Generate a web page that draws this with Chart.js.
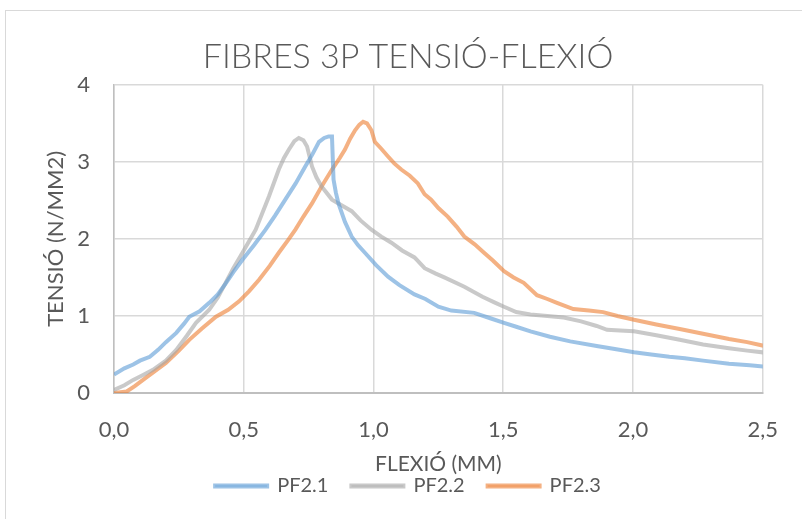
<!DOCTYPE html>
<html>
<head>
<meta charset="utf-8">
<script src="https://cdn.jsdelivr.net/npm/chart.js@4.4.1/dist/chart.umd.min.js"></script>
<style>
  html, body { margin: 0; padding: 0; background: #fff; overflow: hidden; }
  #wrap { position: relative; width: 802px; height: 519px; }
  #frame { position: absolute; left: 5px; top: 10px; width: 900px; height: 600px; border: 1.5px solid #d9d9d9; }
  canvas { position: absolute; left: 0; top: 0; }
</style>
</head>
<body>
<div id="wrap">
  <div id="frame"></div>
  <canvas id="chart" width="802" height="519"></canvas>
</div>
<script>
// values (flexió mm, tensió N/mm2)
const seriesNames = ["PF2.1", "PF2.2", "PF2.3"];

const pf21x = [0, 0.04, 0.074, 0.10, 0.138, 0.17, 0.20, 0.24, 0.27, 0.29, 0.33, 0.367, 0.40, 0.43, 0.46, 0.495, 0.54, 0.584, 0.62, 0.66, 0.70, 0.737, 0.765, 0.79, 0.81, 0.827, 0.84, 0.846, 0.855, 0.865, 0.89, 0.916, 0.94, 0.967, 1.01, 1.056, 1.10, 1.158, 1.20, 1.25, 1.30, 1.388, 1.45, 1.503, 1.55, 1.605, 1.68, 1.758, 1.86, 1.93, 2.004, 2.07, 2.14, 2.20, 2.27, 2.37, 2.45, 2.52];
const pf21y = [0.24, 0.32, 0.37, 0.42, 0.47, 0.56, 0.66, 0.78, 0.90, 0.99, 1.06, 1.17, 1.28, 1.42, 1.57, 1.73, 1.92, 2.12, 2.30, 2.51, 2.72, 2.94, 3.10, 3.26, 3.31, 3.33, 3.33, 2.77, 2.60, 2.46, 2.22, 2.03, 1.92, 1.82, 1.66, 1.51, 1.40, 1.28, 1.22, 1.12, 1.07, 1.04, 0.97, 0.91, 0.86, 0.80, 0.73, 0.67, 0.61, 0.57, 0.53, 0.50, 0.47, 0.45, 0.42, 0.38, 0.36, 0.34];

const pf22x = [0, 0.04, 0.074, 0.11, 0.15, 0.20, 0.24, 0.28, 0.316, 0.367, 0.40, 0.43, 0.46, 0.495, 0.546, 0.597, 0.635, 0.655, 0.674, 0.695, 0.712, 0.73, 0.744, 0.755, 0.763, 0.78, 0.80, 0.84, 0.88, 0.916, 0.95, 0.992, 1.03, 1.069, 1.11, 1.158, 1.197, 1.24, 1.273, 1.35, 1.42, 1.47, 1.503, 1.55, 1.605, 1.67, 1.733, 1.80, 1.86, 1.90, 1.95, 2.004, 2.09, 2.18, 2.27, 2.37, 2.44, 2.52];
const pf22y = [0.04, 0.10, 0.17, 0.23, 0.30, 0.42, 0.56, 0.74, 0.91, 1.08, 1.24, 1.43, 1.62, 1.82, 2.12, 2.55, 2.90, 3.05, 3.16, 3.27, 3.31, 3.28, 3.20, 3.05, 2.94, 2.80, 2.68, 2.51, 2.43, 2.36, 2.24, 2.12, 2.03, 1.95, 1.85, 1.76, 1.62, 1.55, 1.50, 1.38, 1.25, 1.17, 1.12, 1.05, 1.02, 1.00, 0.98, 0.93, 0.87, 0.82, 0.81, 0.80, 0.75, 0.69, 0.63, 0.58, 0.55, 0.52];

const pf23x = [0, 0.049, 0.08, 0.112, 0.16, 0.20, 0.25, 0.29, 0.34, 0.393, 0.44, 0.482, 0.52, 0.559, 0.60, 0.635, 0.67, 0.699, 0.73, 0.763, 0.80, 0.84, 0.87, 0.89, 0.91, 0.929, 0.945, 0.96, 0.975, 0.992, 1.005, 1.03, 1.056, 1.08, 1.107, 1.14, 1.171, 1.197, 1.222, 1.25, 1.286, 1.32, 1.35, 1.39, 1.426, 1.46, 1.503, 1.54, 1.579, 1.63, 1.67, 1.707, 1.77, 1.83, 1.885, 1.94, 2.004, 2.09, 2.18, 2.27, 2.37, 2.44, 2.52];
const pf23y = [0.0, 0.02, 0.09, 0.17, 0.29, 0.39, 0.55, 0.69, 0.84, 0.99, 1.08, 1.19, 1.32, 1.47, 1.65, 1.82, 1.98, 2.12, 2.29, 2.46, 2.68, 2.90, 3.05, 3.16, 3.30, 3.41, 3.48, 3.52, 3.50, 3.41, 3.26, 3.17, 3.07, 2.98, 2.90, 2.82, 2.72, 2.58, 2.51, 2.40, 2.29, 2.16, 2.03, 1.93, 1.82, 1.72, 1.58, 1.50, 1.43, 1.27, 1.22, 1.17, 1.09, 1.07, 1.05, 1.00, 0.95, 0.89, 0.83, 0.77, 0.70, 0.66, 0.60];

const xTicks = [0, 0.5, 1.0, 1.5, 2.0, 2.5];
const yTicks = [0, 1, 2, 3, 4];

const colors = ["rgba(91,155,213,0.6)", "rgba(165,165,165,0.6)", "rgba(237,125,49,0.6)"];
const txt = "#595959";
const fam = "Lato, 'Open Sans', sans-serif";

function pts(xs, ys) {
  return xs.map((x, i) => ({ x: x, y: ys[i] }));
}

const allX = [pf21x, pf22x, pf23x];
const allY = [pf21y, pf22y, pf23y];

new Chart(document.getElementById("chart").getContext("2d"), {
  type: "scatter",
  data: {
    datasets: seriesNames.map((name, i) => ({
      label: name,
      data: pts(allX[i], allY[i]),
      showLine: true,
      borderColor: colors[i],
      backgroundColor: colors[i],
      borderWidth: 4,
      pointRadius: 0,
      tension: 0,
    })),
  },
  options: {
    responsive: false,
    animation: false,
    layout: { padding: { left: 48, right: 34, top: 0, bottom: 13 } },
    plugins: {
      title: {
        display: true,
        text: "FIBRES 3P TENSIÓ-FLEXIÓ",
        color: txt,
        font: { family: fam, size: 34, weight: "300" },
        padding: { top: 37, bottom: 7 },
      },
      legend: {
        position: "bottom",
        labels: {
          color: txt,
          font: { family: fam, size: 20 },
          boxWidth: 52,
          boxHeight: 1,
          padding: 23,
        },
      },
      tooltip: { enabled: false },
    },
    scales: {
      x: {
        type: "linear",
        min: 0,
        max: 2.5,
        afterBuildTicks: (s) => { s.ticks = xTicks.map((v) => ({ value: v })); },
        afterFit: (s) => { s.height = 60; },
        ticks: {
          color: txt,
          font: { family: fam, size: 22 },
          padding: 24,
          callback: (v) => v.toFixed(1).replace(".", ","),
        },
        grid: { color: "#d9d9d9", lineWidth: 1.5, drawTicks: false },
        border: { color: "#bfbfbf", width: 2 },
        title: {
          display: true,
          text: "FLEXIÓ (MM)",
          color: txt,
          font: { family: fam, size: 21 },
          padding: { top: 0, bottom: -24 },
        },
      },
      y: {
        min: 0,
        max: 4,
        afterBuildTicks: (s) => { s.ticks = yTicks.map((v) => ({ value: v })); },
        afterFit: (s) => { s.width = 66; },
        ticks: {
          color: txt,
          font: { family: fam, size: 22 },
          padding: 24,
        },
        grid: { color: "#d9d9d9", lineWidth: 1.5, drawTicks: false },
        border: { color: "#bfbfbf", width: 1.5 },
        title: {
          display: true,
          text: "TENSIÓ (N/MM2)",
          color: txt,
          font: { family: fam, size: 22 },
          padding: { top: -5, bottom: 0 },
        },
      },
    },
  },
});
</script>
</body>
</html>
